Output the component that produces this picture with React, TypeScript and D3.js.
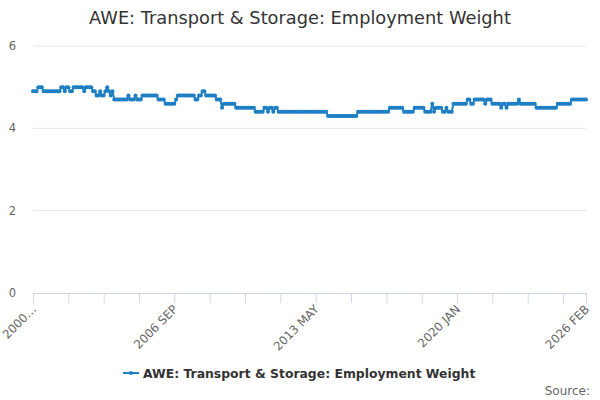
import { useEffect, useRef } from "react";
import * as d3 from "d3";

// monthly series, 2000 JAN .. 2026 FEB
const years = d3.range(2000, 2027);
const monthNames = ["JAN", "FEB", "MAR", "APR", "MAY", "JUN", "JUL", "AUG", "SEP", "OCT", "NOV", "DEC"];

const values: number[] = [
  // 2000
  4.9, 4.9, 4.9, 5.0, 5.0, 5.0, 4.9, 4.9, 4.9, 4.9, 4.9, 4.9,
  // 2001
  4.9, 4.9, 4.9, 4.9, 5.0, 5.0, 4.9, 5.0, 5.0, 4.9, 4.9, 5.0,
  // 2002
  5.0, 5.0, 5.0, 5.0, 5.0, 4.9, 5.0, 5.0, 5.0, 5.0, 4.9, 4.9,
  // 2003
  4.8, 4.8, 4.9, 4.8, 4.8, 4.9, 5.0, 4.9, 4.8, 4.9, 4.7, 4.7,
  // 2004
  4.7, 4.7, 4.7, 4.7, 4.7, 4.7, 4.8, 4.7, 4.7, 4.7, 4.8, 4.7,
  // 2005
  4.7, 4.7, 4.8, 4.8, 4.8, 4.8, 4.8, 4.8, 4.8, 4.8, 4.8, 4.7,
  // 2006
  4.7, 4.7, 4.7, 4.6, 4.6, 4.6, 4.6, 4.6, 4.6, 4.7, 4.8, 4.8,
  // 2007
  4.8, 4.8, 4.8, 4.8, 4.8, 4.8, 4.8, 4.8, 4.7, 4.7, 4.8, 4.8,
  // 2008
  4.9, 4.9, 4.8, 4.8, 4.8, 4.8, 4.8, 4.8, 4.7, 4.7, 4.7, 4.5,
  // 2009
  4.6, 4.6, 4.6, 4.6, 4.6, 4.6, 4.6, 4.5, 4.5, 4.5, 4.5, 4.5,
  // 2010
  4.5, 4.5, 4.5, 4.5, 4.5, 4.5, 4.4, 4.4, 4.4, 4.4, 4.4, 4.5,
  // 2011
  4.5, 4.4, 4.5, 4.5, 4.4, 4.5, 4.5, 4.4, 4.4, 4.4, 4.4, 4.4,
  // 2012
  4.4, 4.4, 4.4, 4.4, 4.4, 4.4, 4.4, 4.4, 4.4, 4.4, 4.4, 4.4,
  // 2013
  4.4, 4.4, 4.4, 4.4, 4.4, 4.4, 4.4, 4.4, 4.4, 4.4, 4.4, 4.3,
  // 2014
  4.3, 4.3, 4.3, 4.3, 4.3, 4.3, 4.3, 4.3, 4.3, 4.3, 4.3, 4.3,
  // 2015
  4.3, 4.3, 4.3, 4.3, 4.4, 4.4, 4.4, 4.4, 4.4, 4.4, 4.4, 4.4,
  // 2016
  4.4, 4.4, 4.4, 4.4, 4.4, 4.4, 4.4, 4.4, 4.4, 4.4, 4.5, 4.5,
  // 2017
  4.5, 4.5, 4.5, 4.5, 4.5, 4.5, 4.4, 4.4, 4.4, 4.4, 4.4, 4.4,
  // 2018
  4.5, 4.5, 4.5, 4.5, 4.5, 4.5, 4.4, 4.4, 4.4, 4.4, 4.6, 4.4,
  // 2019
  4.5, 4.5, 4.5, 4.5, 4.4, 4.4, 4.5, 4.4, 4.4, 4.4, 4.6, 4.6,
  // 2020
  4.6, 4.6, 4.6, 4.6, 4.6, 4.6, 4.7, 4.7, 4.6, 4.6, 4.7, 4.7,
  // 2021
  4.7, 4.7, 4.7, 4.7, 4.6, 4.7, 4.7, 4.7, 4.6, 4.6, 4.6, 4.6,
  // 2022
  4.6, 4.5, 4.6, 4.6, 4.5, 4.6, 4.6, 4.6, 4.6, 4.6, 4.6, 4.7,
  // 2023
  4.6, 4.6, 4.6, 4.6, 4.6, 4.6, 4.6, 4.6, 4.6, 4.5, 4.5, 4.5,
  // 2024
  4.5, 4.5, 4.5, 4.5, 4.5, 4.5, 4.5, 4.5, 4.5, 4.6, 4.6, 4.6,
  // 2025
  4.6, 4.6, 4.6, 4.6, 4.6, 4.7, 4.7, 4.7, 4.7, 4.7, 4.7, 4.7,
  // 2026
  4.7, 4.7,
];

const categories = years
  .flatMap((y) => monthNames.map((m) => `${y} ${m}`))
  .slice(0, values.length);

const yTicks = [0, 2, 4, 6];
const labelIndices = [0, 80, 160, 240, values.length - 1];

const seriesName = "AWE: Transport & Storage: Employment Weight";
const color = "#1f7fc4";
const font = "'DejaVu Sans', sans-serif";

const width = 600;
const height = 400;

export default function App() {
  const ref = useRef<SVGSVGElement>(null);

  useEffect(() => {
    const svg = d3.select(ref.current);
    svg.selectAll("*").remove();

    const x = d3.scalePoint<string>().domain(categories).range([33, 586]);
    const y = d3.scaleLinear().domain([0, 6]).range([293, 46]);

    svg
      .append("text")
      .attr("x", width / 2)
      .attr("y", 24)
      .attr("text-anchor", "middle")
      .attr("font-size", 17.8)
      .attr("fill", "#333333")
      .text(seriesName);

    // grid
    svg
      .append("g")
      .selectAll("line")
      .data(yTicks.filter((t) => t > 0))
      .join("line")
      .attr("x1", 33)
      .attr("x2", 586)
      .attr("y1", (d) => y(d))
      .attr("y2", (d) => y(d))
      .attr("stroke", "#e6e6e6");

    svg
      .append("g")
      .selectAll("text")
      .data(yTicks)
      .join("text")
      .attr("x", 16)
      .attr("y", (d) => y(d) + 4)
      .attr("text-anchor", "end")
      .attr("font-size", 11.5)
      .attr("fill", "#666666")
      .text((d) => d);

    // x axis
    const ax = svg.append("g");
    ax.append("line")
      .attr("x1", 33)
      .attr("x2", 586)
      .attr("y1", 293.5)
      .attr("y2", 293.5)
      .attr("stroke", "#ccd6eb");

    const tickIdx = d3.range(0, values.length, 20).concat([values.length - 1]);
    ax.selectAll("line.tick")
      .data(tickIdx)
      .join("line")
      .attr("class", "tick")
      .attr("x1", (i) => x(categories[i])! + 0.5)
      .attr("x2", (i) => x(categories[i])! + 0.5)
      .attr("y1", 293)
      .attr("y2", 303)
      .attr("stroke", "#ccd6eb");

    ax.selectAll("text")
      .data(labelIndices)
      .join("text")
      .attr("text-anchor", "end")
      .attr("font-size", 11.8)
      .attr("fill", "#666666")
      .attr("transform", (i) => `translate(${x(categories[i])! + 4},${310}) rotate(-45)`)
      .text((i) => (i === 0 ? categories[i].slice(0, 4) + "…" : categories[i]));

    // series
    const line = d3
      .line<number>()
      .x((_, i) => x(categories[i])!)
      .y((d) => y(d));

    svg
      .append("path")
      .datum(values)
      .attr("d", line)
      .attr("fill", "none")
      .attr("stroke", color)
      .attr("stroke-width", 2)
      .attr("stroke-linejoin", "round");

    svg
      .append("g")
      .selectAll("circle")
      .data(values)
      .join("circle")
      .attr("cx", (_, i) => x(categories[i])!)
      .attr("cy", (d) => y(d))
      .attr("r", 2)
      .attr("fill", color);

    // legend
    const lg = svg.append("g").attr("transform", "translate(0,373)");
    lg.append("line")
      .attr("x1", 123)
      .attr("x2", 139)
      .attr("y1", 0)
      .attr("y2", 0)
      .attr("stroke", color)
      .attr("stroke-width", 2);
    lg.append("circle").attr("cx", 131).attr("cy", 0).attr("r", 2).attr("fill", color);
    lg.append("text")
      .attr("x", 143)
      .attr("y", 5)
      .attr("font-size", 12.4)
      .attr("font-weight", "bold")
      .attr("fill", "#333333")
      .text(seriesName);

    svg
      .append("text")
      .attr("x", 590)
      .attr("y", 395)
      .attr("text-anchor", "end")
      .attr("font-size", 12)
      .attr("fill", "#666666")
      .text("Source:");
  }, []);

  return (
    <svg
      ref={ref}
      width={width}
      height={height}
      fontFamily={font}
      style={{ position: "absolute", left: 0, top: 0, background: "#ffffff" }}
    />
  );
}
